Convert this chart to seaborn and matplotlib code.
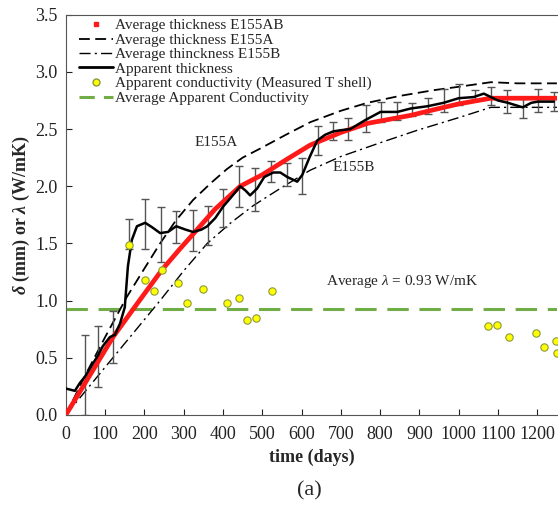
import numpy as np
import pandas as pd
import matplotlib
matplotlib.use("Agg")
import matplotlib.pyplot as plt
import seaborn as sns
from matplotlib.lines import Line2D

# average thickness E155AB (red)
avg_days = [0, 60, 120, 181, 245, 290, 334, 380, 444, 500, 560, 622, 700, 768, 878, 950, 1000, 1082, 1250]
avg_val = [0, 0.34, 0.68, 0.97, 1.27, 1.45, 1.62, 1.80, 2.00, 2.10, 2.23, 2.36, 2.47, 2.55, 2.62, 2.68, 2.72, 2.77, 2.77]

# E155A (dashed)
a_days = [0, 50, 100, 155, 200, 240, 280, 324, 370, 410, 450, 495, 560, 622, 700, 768, 850, 936, 1000, 1082, 1150, 1250]
a_val = [0, 0.35, 0.68, 1.03, 1.28, 1.50, 1.70, 1.88, 2.03, 2.15, 2.25, 2.33, 2.45, 2.56, 2.66, 2.73, 2.79, 2.84, 2.87, 2.91, 2.90, 2.90]

# E155B (dash-dot)
b_days = [0, 60, 120, 180, 240, 300, 360, 420, 477, 550, 622, 700, 800, 895, 1000, 1082, 1250]
b_val = [0, 0.25, 0.50, 0.75, 1.00, 1.26, 1.50, 1.68, 1.83, 1.99, 2.14, 2.26, 2.38, 2.49, 2.60, 2.69, 2.69]

# apparent thickness (black)
app_days = [0, 23, 36, 50, 69, 82, 94, 112, 125, 138, 150, 158, 168, 181, 202, 220, 240, 260,
            281, 305, 324, 345, 360, 380, 400, 420, 444, 458, 469, 487, 505, 528, 546, 564, 589, 602, 620, 640,
            660, 681, 700, 724, 763, 801, 844, 878, 921, 962, 1000, 1038, 1064, 1082, 1100, 1125, 1163, 1185, 1202, 1242]
app_val = [0.23, 0.21, 0.28, 0.34, 0.45, 0.52, 0.60, 0.68, 0.70, 0.80, 0.94, 1.30, 1.53, 1.65, 1.68, 1.64, 1.59, 1.60,
           1.65, 1.62, 1.60, 1.62, 1.65, 1.72, 1.82, 1.90, 2.00, 1.96, 1.92, 1.98, 2.08, 2.12, 2.12, 2.08, 2.04, 2.10, 2.25, 2.40,
           2.45, 2.48, 2.49, 2.50, 2.58, 2.65, 2.65, 2.68, 2.70, 2.73, 2.77, 2.78, 2.81, 2.78, 2.75, 2.73, 2.69, 2.73, 2.74, 2.74]

# error bars on apparent thickness
err_days = [48, 82, 120, 161, 202, 242, 281, 323, 362, 401, 442, 482, 523, 564, 602, 643, 681, 719,
            763, 803, 842, 880, 921, 962, 1000, 1041, 1082, 1122, 1163, 1202, 1242]
err_mid = [0.35, 0.51, 0.68, 1.58, 1.67, 1.58, 1.64, 1.61, 1.66, 1.81, 2.00, 1.97, 2.13, 2.10, 2.09, 2.40, 2.48, 2.50,
           2.59, 2.65, 2.66, 2.67, 2.70, 2.75, 2.80, 2.80, 2.79, 2.74, 2.68, 2.75, 2.74]
err_size = [0.35, 0.27, 0.23, 0.13, 0.22, 0.24, 0.14, 0.18, 0.17, 0.17, 0.18, 0.19, 0.09, 0.10, 0.16, 0.13, 0.08, 0.10,
            0.12, 0.09, 0.08, 0.06, 0.07, 0.10, 0.09, 0.04, 0.08, 0.10, 0.08, 0.10, 0.08]

# apparent conductivity (yellow points)
cond_days = [161, 202, 224, 245, 286, 308, 349, 410, 441, 462, 484, 526, 1074, 1097, 1128, 1196, 1217, 1248, 1250]
cond_val = [1.49, 1.18, 1.08, 1.27, 1.15, 0.98, 1.10, 0.98, 1.02, 0.83, 0.85, 1.08, 0.78, 0.79, 0.68, 0.72, 0.59, 0.65, 0.54]

avg_lambda = 0.93

sns.set_theme(style="ticks")
plt.rcParams["font.family"] = ["Liberation Serif", "DejaVu Serif"]
plt.rcParams["mathtext.fontset"] = "custom"
plt.rcParams["mathtext.rm"] = "Liberation Serif"
plt.rcParams["mathtext.it"] = "Liberation Serif:italic"
plt.rcParams["mathtext.bf"] = "Liberation Serif:bold:italic"

fig = plt.figure(figsize=(5.58, 5.09), dpi=100)
ax = fig.add_axes([0.118, 0.185, 0.880, 0.786])

ax.axhline(avg_lambda, color="#70ad47", lw=2.2, dashes=(7, 3.5), zorder=1)

sns.lineplot(x=a_days, y=a_val, ax=ax, color="black", lw=1.3, zorder=2).lines[-1].set_dashes((6, 3))
sns.lineplot(x=b_days, y=b_val, ax=ax, color="black", lw=1.0, zorder=2).lines[-1].set_dashes((8, 3, 1.5, 3))

ax.errorbar(err_days, err_mid, yerr=err_size, fmt="none", ecolor="#555555", elinewidth=1.0, capsize=3, capthick=1.0, zorder=3)

sns.lineplot(x=avg_days, y=avg_val, ax=ax, color="#ff1a1a", lw=3.4, zorder=4)
sns.lineplot(x=app_days, y=app_val, ax=ax, color="black", lw=1.8, zorder=5)

sns.scatterplot(x=cond_days, y=cond_val, ax=ax, color="#ffff00", edgecolor="#8a9a3a", linewidth=0.8, s=28, zorder=6)

ax.set_xlim(0, 1250)
ax.set_ylim(0, 3.5)
ax.set_xticks(np.arange(0, 1201, 100))
ax.set_yticks(np.arange(0, 3.51, 0.5))
ax.set_yticklabels([f"{v:.1f}" for v in np.arange(0, 3.51, 0.5)])
ax.tick_params(direction="in", length=4, width=0.8, labelsize=13, colors="#222222")
ax.tick_params(axis="x", pad=8)
ax.tick_params(axis="y", pad=6)
for s in ["left", "bottom", "top"]:
    ax.spines[s].set_color("#555555")
    ax.spines[s].set_linewidth(0.8)
ax.spines["right"].set_visible(False)

ax.set_xlabel("time (days)", fontsize=13, fontweight="bold", labelpad=4)
ax.set_ylabel(r"$\mathbf{\delta}$ (mm) or $\mathbf{\lambda}$ (W/mK)", fontsize=13, fontweight="bold", labelpad=2)

ax.text(383, 2.38, "E155A", fontsize=11, ha="center", va="center")
ax.text(732, 2.16, "E155B", fontsize=11, ha="center", va="center")
ax.text(857, 1.17, r"Average $\lambda$ = 0.93 W/mK", fontsize=11, ha="center", va="center")
fig.text(0.555, 0.035, "(a)", fontsize=16, ha="center", va="center")

handles = [
    Line2D([], [], ls="none", marker="s", ms=3, color="#ff1a1a"),
    Line2D([], [], color="black", lw=1.3, dashes=(6, 3)),
    Line2D([], [], color="black", lw=1.0, dashes=(8, 3, 1.5, 3)),
    Line2D([], [], color="black", lw=2.0),
    Line2D([], [], ls="none", marker="o", ms=5, markerfacecolor="#ffff00", markeredgecolor="#8a9a3a"),
    Line2D([], [], color="#70ad47", lw=2.2, dashes=(5, 3)),
]
labels = ["Average thickness E155AB", "Average thickness E155A", "Average thinckness E155B",
          "Apparent thickness", "Apparent conductivity (Measured T shell)", "Average Apparent Conductivity"]
ax.legend(handles, labels, loc="upper left", bbox_to_anchor=(0.008, 1.013), frameon=False, fontsize=11,
          handlelength=2.2, handletextpad=0.15, labelspacing=0.05, borderaxespad=0.2)

fig.savefig("out.png", dpi=100, facecolor="white")
